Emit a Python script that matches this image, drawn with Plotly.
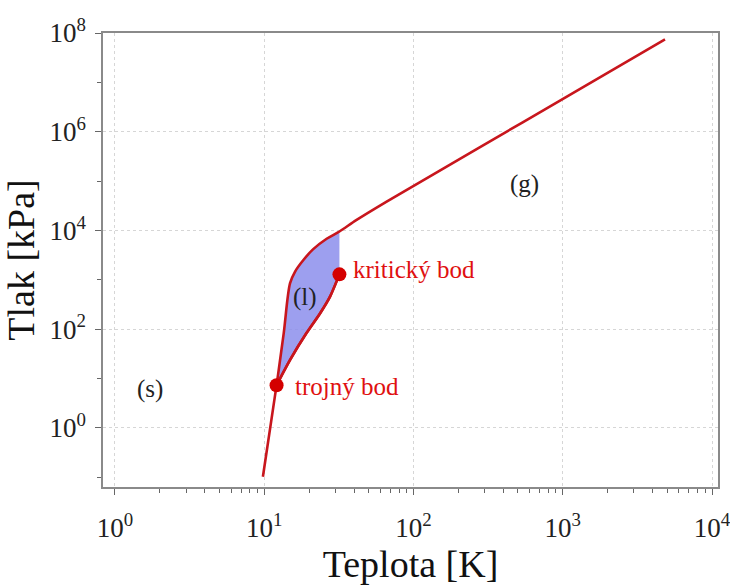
import numpy as np
import plotly.graph_objects as go

# Sublimation curve (solid-gas), T [K], P [kPa]
subl_T = [9.8, 12.1]
subl_P = [0.102, 7.3]

# Melting curve from triple point up to the critical temperature
melt_T = [12.1, 13.5, 14.9, 16.1, 18.3, 21.3, 26.2, 31.9]
melt_P = [7.3, 81, 851, 1466, 2512, 4169, 6761, 9500]

# Upper boundary continuing to high temperatures
upper_T = [31.9, 41.6, 66.1, 272, 984, 4842]
upper_P = [9500, 16300, 38300, 4.64e5, 4.49e6, 7.45e7]

# Vaporization curve (liquid-gas) from triple point to critical point
vap_T = [12.1, 14.9, 19.2, 23.7, 27.6, 31.9]
vap_P = [7.3, 23.8, 83, 210, 456, 1285]

triple_T, triple_P = 12.1, 7.3
crit_T, crit_P = 31.9, 1285

# Region labels
region_text = ["(l)", "(g)", "(s)"]
region_T = [18.7, 558, 1.72]
region_P = [450, 87500, 6.2]

line_color = "#c8161d"
point_color = "#d40000"
serif = "Liberation Serif, Times New Roman, serif"

fig = go.Figure()

# Vaporization curve, then the liquid region filled between it and the melting curve
fig.add_trace(go.Scatter(x=vap_T, y=vap_P, mode="lines",
                         line=dict(color=line_color, width=2.6, shape="spline", smoothing=0.7),
                         showlegend=False))
fig.add_trace(go.Scatter(x=melt_T, y=melt_P, mode="lines", fill="tonexty",
                         fillcolor="rgba(140,142,236,0.85)",
                         line=dict(width=0, shape="spline", smoothing=0.9),
                         hoverinfo="skip", showlegend=False))

# Main boundary: sublimation + melting + upper line
main_T = subl_T + melt_T[1:] + upper_T[1:]
main_P = subl_P + melt_P[1:] + upper_P[1:]
fig.add_trace(go.Scatter(x=main_T, y=main_P, mode="lines",
                         line=dict(color=line_color, width=2.6, shape="spline", smoothing=0.9),
                         showlegend=False))
fig.add_trace(go.Scatter(x=vap_T, y=vap_P, mode="lines",
                         line=dict(color=line_color, width=2.6, shape="spline", smoothing=0.7),
                         showlegend=False))

# Triple and critical points
fig.add_trace(go.Scatter(x=[triple_T, crit_T], y=[triple_P, crit_P], mode="markers",
                         marker=dict(color=point_color, size=14),
                         showlegend=False))

for t, x, y in zip(region_text, region_T, region_P):
    fig.add_annotation(x=np.log10(x), y=np.log10(y), text=t, showarrow=False,
                       font=dict(family=serif, size=25, color="#222"))

fig.add_annotation(x=np.log10(crit_T), y=np.log10(crit_P), text="kritický bod",
                   showarrow=False, xanchor="left", xshift=12, yshift=5,
                   font=dict(family=serif, size=25, color="#e01010"))
fig.add_annotation(x=np.log10(triple_T), y=np.log10(triple_P), text="trojný bod",
                   showarrow=False, xanchor="left", xshift=16, yshift=-1,
                   font=dict(family=serif, size=25, color="#e01010"))

x_major = [1, 10, 100, 1000, 10000]
x_labels = ["10<sup>0</sup>", "10<sup>1</sup>", "10<sup>2</sup>", "10<sup>3</sup>", "10<sup>4</sup>"]
x_minor = [m * d for d in [1, 10, 100, 1000] for m in range(2, 10)]
y_major = [1, 1e2, 1e4, 1e6, 1e8]
y_labels = ["10<sup>0</sup>", "10<sup>2</sup>", "10<sup>4</sup>", "10<sup>6</sup>", "10<sup>8</sup>"]
y_minor = [0.1, 10, 1e3, 1e5, 1e7]

axis_common = dict(
    type="log", showline=True, linecolor="#8a8a8a", linewidth=1.5, mirror=True,
    showgrid=True, gridcolor="#d6d6d6", griddash="dot", gridwidth=1,
    ticks="outside", ticklen=6, tickcolor="#666", zeroline=False, automargin=False,
    ticklabeloverflow="allow",
    tickfont=dict(family=serif, size=27, color="#222"),
)

fig.update_layout(
    width=730, height=585,
    margin=dict(l=103, r=12, t=33, b=98),
    paper_bgcolor="white", plot_bgcolor="white",
    xaxis=dict(axis_common, range=[-0.08, 4.04], tickvals=x_major, ticktext=x_labels,
               ticklabelstandoff=10,
               minor=dict(tickvals=x_minor, ticks="outside", ticklen=4, tickcolor="#666", showgrid=False),
               title=dict(text="Teplota [K]", font=dict(family=serif, size=38, color="#111"), standoff=4)),
    yaxis=dict(axis_common, range=[-1.2, 8.0], tickvals=y_major, ticktext=y_labels,
               ticklabelstandoff=4,
               minor=dict(tickvals=y_minor, ticks="outside", ticklen=4, tickcolor="#666", showgrid=False),
               title=dict(text="Tlak [kPa]", font=dict(family=serif, size=38, color="#111"), standoff=4)),
)

fig.write_html("out.html", config={"displayModeBar": False},
               post_script="document.body.style.margin='0';document.body.style.overflow='hidden';")
